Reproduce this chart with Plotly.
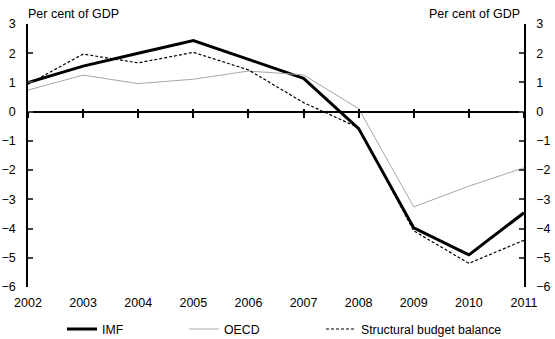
import plotly.graph_objects as go

years = [2002, 2003, 2004, 2005, 2006, 2007, 2008, 2009, 2010, 2011]
imf = [1.0, 1.56, 2.0, 2.43, 1.79, 1.14, -0.58, -3.98, -4.9, -3.46]
oecd = [0.74, 1.25, 0.96, 1.11, 1.39, 1.26, 0.1, -3.26, -2.55, -1.92]
structural = [0.94, 1.97, 1.67, 2.03, 1.43, 0.31, -0.55, -4.08, -5.19, -4.4]
y_ticks = [-6, -5, -4, -3, -2, -1, 0, 1, 2, 3]
y_range = [-6, 3]

FONT = "Liberation Sans, Arial, sans-serif"
W, H = 555, 339

fig = go.Figure()
fig.add_trace(go.Scatter(x=years, y=imf, name="IMF", mode="lines", legend="legend",
                         line=dict(color="black", width=3)))
fig.add_trace(go.Scatter(x=years, y=oecd, name="OECD", mode="lines", legend="legend2",
                         line=dict(color="#a6a6a6", width=1)))
fig.add_trace(go.Scatter(x=years, y=structural, name="Structural budget balance", mode="lines",
                         legend="legend3",
                         line=dict(color="black", width=1.2, dash="3px,2px")))
# invisible traces to activate helper axes
fig.add_trace(go.Scatter(x=years, y=imf, yaxis="y2", mode="lines", showlegend=False,
                         line=dict(color="rgba(0,0,0,0)"), hoverinfo="skip"))
fig.add_trace(go.Scatter(x=years, y=[0]*len(years), xaxis="x2", mode="lines",
                         line=dict(color="rgba(0,0,0,0)"), showlegend=False, hoverinfo="skip"))
fig.add_trace(go.Scatter(x=years, y=[0]*len(years), xaxis="x3", mode="lines",
                         line=dict(color="rgba(0,0,0,0)"), showlegend=False, hoverinfo="skip"))

zero_pos = (0 - y_range[0]) / (y_range[1] - y_range[0])

def leg(text_x):
    return dict(xref="container", yref="container", x=(text_x - 40) / W, xanchor="left",
                y=1 - 329 / H, yanchor="middle", bgcolor="rgba(0,0,0,0)",
                font=dict(size=12.3), orientation="h")

fig.update_layout(
    width=W, height=H,
    margin=dict(l=28, r=30.5, t=24, b=52, autoexpand=False),
    plot_bgcolor="white", paper_bgcolor="white",
    font=dict(family=FONT, size=12.5, color="black"),
    showlegend=True,
    legend=leg(102),
    legend2=leg(224),
    legend3=leg(361),
    xaxis=dict(range=[years[0], years[-1]], tickvals=years, showline=False, ticks="",
               showgrid=False, zeroline=False, tickfont=dict(size=12.5), ticklabelstandoff=6),
    xaxis2=dict(range=[years[0], years[-1]], tickvals=years, overlaying="x",
                anchor="free", position=zero_pos, showticklabels=False,
                showline=True, linecolor="black", linewidth=1.5,
                ticks="outside", ticklen=6, tickwidth=1.5, tickcolor="black",
                showgrid=False, zeroline=False),
    xaxis3=dict(range=[years[0], years[-1]], tickvals=years, overlaying="x",
                anchor="free", position=zero_pos, showticklabels=False,
                showline=False, side="bottom",
                ticks="inside", ticklen=3, tickwidth=1.5, tickcolor="black",
                showgrid=False, zeroline=False),
    yaxis=dict(range=y_range, tickvals=y_ticks, showline=True, linecolor="black",
               linewidth=1.5, ticks="inside", ticklen=5, tickwidth=1.5,
               showgrid=False, zeroline=False, tickfont=dict(size=12.5),
               ticklabelstandoff=8),
    yaxis2=dict(range=y_range, tickvals=y_ticks, overlaying="y", side="right",
                showline=True, linecolor="black", linewidth=1.5, ticks="inside",
                ticklen=5, tickwidth=1.5, showgrid=False, zeroline=False,
                tickfont=dict(size=12.5), ticklabelstandoff=8),
    annotations=[
        dict(text="Per cent of GDP", xref="paper", yref="paper", x=0, y=1,
             xanchor="left", yanchor="bottom", showarrow=False, yshift=1, xshift=-2,
             font=dict(size=12.5)),
        dict(text="Per cent of GDP", xref="paper", yref="paper", x=1, y=1,
             xanchor="right", yanchor="bottom", showarrow=False, yshift=1, xshift=-2,
             font=dict(size=12.5)),
    ],
)

fig.write_html("out.html")
